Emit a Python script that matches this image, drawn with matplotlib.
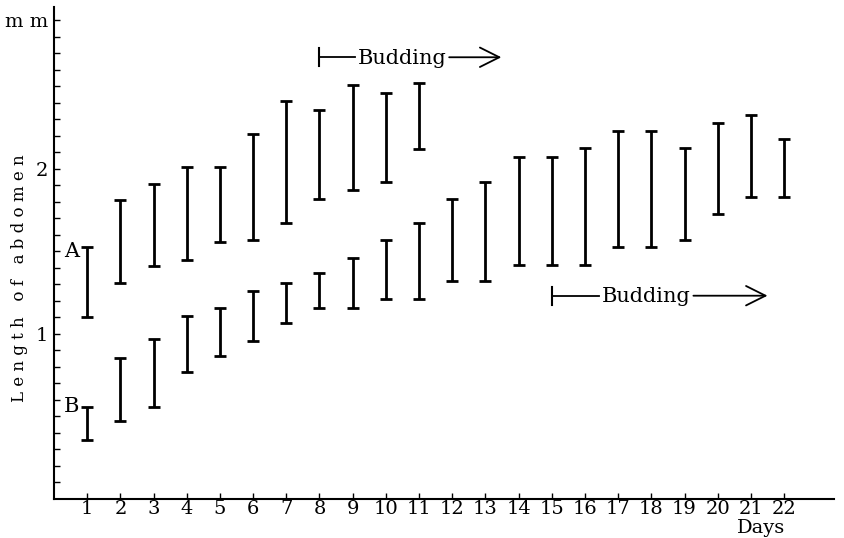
import matplotlib.pyplot as plt
import numpy as np

plt.rcParams['font.family'] = 'DejaVu Serif'

# abdomen length ranges (mm) per day
days_a = list(range(1, 12))
a_low = [1.10, 1.31, 1.41, 1.45, 1.56, 1.57, 1.67, 1.82, 1.87, 1.92, 2.12]
a_high = [1.53, 1.81, 1.91, 2.01, 2.01, 2.21, 2.41, 2.36, 2.51, 2.46, 2.52]

days_b = list(range(1, 23))
b_low = [0.36, 0.47, 0.56, 0.77, 0.865, 0.96, 1.065, 1.16, 1.16, 1.215, 1.215,
         1.32, 1.32, 1.42, 1.42, 1.42, 1.525, 1.53, 1.57, 1.73, 1.83, 1.83]
b_high = [0.555, 0.856, 0.97, 1.107, 1.16, 1.26, 1.31, 1.37, 1.46, 1.57, 1.67,
          1.82, 1.92, 2.07, 2.07, 2.125, 2.23, 2.23, 2.13, 2.28, 2.33, 2.18]

fig = plt.figure(figsize=(8.44, 5.38), dpi=100)
ax = fig.add_axes([0.064, 0.0725, 0.924, 0.914])
ax.set_xlim(0, 23.5)
ax.set_ylim(0, 2.98)

def ranges(ax, x, lo, hi):
    lo = np.array(lo)
    hi = np.array(hi)
    ax.errorbar(x, (lo + hi) / 2, yerr=(hi - lo) / 2, fmt='none', ecolor='black',
                elinewidth=2, capsize=4, capthick=2)

ranges(ax, days_a, a_low, a_high)
ranges(ax, days_b, b_low, b_high)

ax.text(0.53, 1.50, 'A', fontsize=15, ha='center', va='center')
ax.text(0.53, 0.56, 'B', fontsize=15, ha='center', va='center')

def budding(ax, x0, x1, xt, y):
    # |--Budding--> ; the lines run up to the text edges
    t = ax.text(xt, y - 0.04, 'Budding', fontsize=15, ha='center', va='baseline')
    fig.canvas.draw()
    bb = t.get_window_extent().transformed(ax.transData.inverted())
    gap = 0.08
    ax.plot([x0, x0], [y - 0.055, y + 0.055], color='black', lw=1.5)
    ax.plot([x0, bb.x0 - gap], [y, y], color='black', lw=1.3)
    ax.annotate('', xy=(x1, y), xytext=(bb.x1 + gap, y),
                arrowprops=dict(arrowstyle='->,head_length=0.7,head_width=0.35',
                                color='black', lw=1.3, mutation_scale=20,
                                shrinkA=0, shrinkB=0))

budding(ax, 8.0, 13.48, 10.49, 2.677)
budding(ax, 15.0, 21.5, 17.85, 1.232)

ax.spines['top'].set_visible(False)
ax.spines['right'].set_visible(False)
ax.spines['left'].set_linewidth(1.5)
ax.spines['bottom'].set_linewidth(1.5)

ax.set_xticks(days_b)
ax.set_xticklabels([str(d) for d in days_b], fontsize=14)
ax.set_yticks([1, 2, 2.9])
ax.set_yticklabels(['1', '2', 'm m'], fontsize=14)
ax.set_yticks(np.arange(0.1, 2.95, 0.1), minor=True)
ax.tick_params(axis='both', which='both', direction='in', length=4, width=1)
ax.tick_params(axis='x', pad=1)
ax.tick_params(axis='y', pad=4)

ax.set_ylabel('L e n g t h   o f   a b d o m e n', fontsize=12)
ax.yaxis.set_label_coords(-0.033, 0.45)
ax.text(21.3, -0.176, 'Days', fontsize=14, ha='center', va='center')

fig.savefig('out.png', dpi=100)
